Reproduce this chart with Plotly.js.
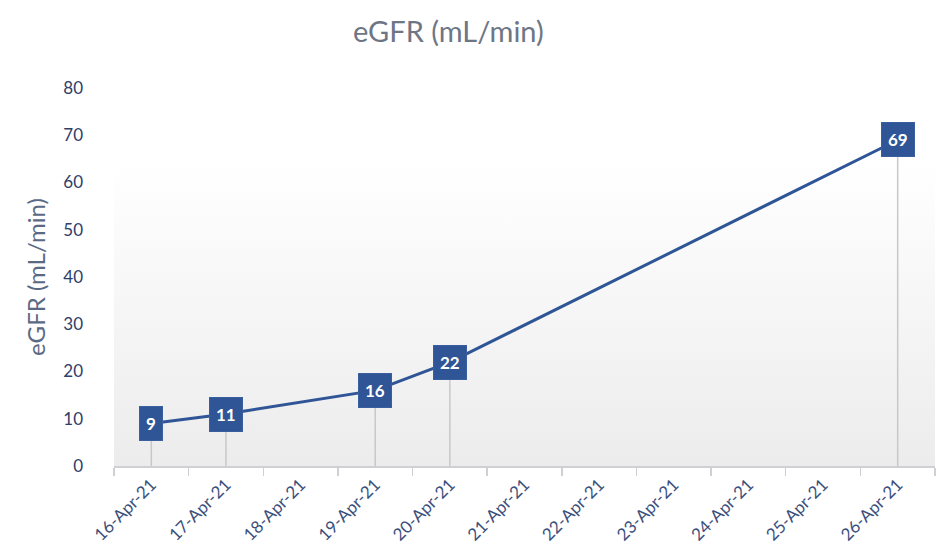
<!DOCTYPE html>
<html>
<head>
<meta charset="utf-8">
<script src="https://cdn.plot.ly/plotly-3.0.1.min.js"></script>
<style>html,body{margin:0;padding:0;background:#fff;}#chart{width:936px;height:555px;}</style>
</head>
<body>
<div id="chart"></div>
<script>
const categories = ['16-Apr-21','17-Apr-21','18-Apr-21','19-Apr-21','20-Apr-21','21-Apr-21','22-Apr-21','23-Apr-21','24-Apr-21','25-Apr-21','26-Apr-21'];
const egfr = [9, 11, null, 16, 22, null, null, null, null, null, 69];
const yTicks = [0, 10, 20, 30, 40, 50, 60, 70, 80];

const navy = '#2f5597';
const FONT = 'Lato, "Open Sans", sans-serif';

const gradSvg = '<svg xmlns="http://www.w3.org/2000/svg" width="100" height="100" preserveAspectRatio="none"><defs><linearGradient id="g" x1="0" y1="0" x2="0" y2="1"><stop offset="0" stop-color="#ffffff"/><stop offset="0.2" stop-color="#ffffff"/><stop offset="1" stop-color="#ececec"/></linearGradient></defs><rect width="100" height="100" fill="url(#g)"/></svg>';
const gradUrl = 'data:image/svg+xml;base64,' + btoa(gradSvg);

const pts = categories.map((c, i) => ({c, v: egfr[i]})).filter(p => p.v !== null);

const trace = {
  x: categories,
  y: egfr,
  type: 'scatter',
  mode: 'lines',
  connectgaps: true,
  line: {color: navy, width: 3},
  error_y: {type: 'data', symmetric: false, array: egfr.map(v => v === null ? null : 0), arrayminus: egfr, color: '#c8c8cc', thickness: 1.5, width: 0},
  hoverinfo: 'x+y'
};

const annotations = pts.map(p => ({
  x: p.c, y: p.v, xref: 'x', yref: 'y',
  text: '<b>' + p.v + '</b>', showarrow: false,
  font: {family: FONT, size: 17, color: '#ffffff'},
  bgcolor: navy, bordercolor: '#3a5f9f', borderwidth: 1, borderpad: 6,
  xanchor: 'center', yanchor: 'middle'
}));

const layout = {
  width: 936, height: 555,
  margin: {l: 114, r: 1, t: 88, b: 89},
  paper_bgcolor: '#ffffff',
  plot_bgcolor: 'rgba(0,0,0,0)',
  showlegend: false,
  title: {text: 'eGFR (mL/min)', font: {family: FONT, size: 29, color: '#6e7685'}, xref: 'container', yref: 'container', x: 0.479, y: 0.942, xanchor: 'center', yanchor: 'middle'},
  xaxis: {
    type: 'category', categoryorder: 'array', categoryarray: categories,
    tickson: 'boundaries', ticks: 'outside', ticklen: 8, tickcolor: '#d0d0d4', tickwidth: 1.5,
    showline: true, linecolor: '#d0d0d4', linewidth: 2,
    showgrid: false, zeroline: false, tickangle: -45,
    tickfont: {family: FONT, size: 17, color: '#3b4f7c'},
    range: [-0.5, 10.5], fixedrange: true
  },
  yaxis: {
    range: [0, 80], tickvals: yTicks, ticktext: yTicks.map(String),
    showgrid: false, zeroline: false, showline: false, ticks: '',
    ticklabelstandoff: 30,
    tickfont: {family: FONT, size: 17, color: '#2e4068'},
    title: {text: 'eGFR (mL/min)', font: {family: FONT, size: 24, color: '#5a6a85'}, standoff: 10},
    fixedrange: true
  },
  images: [{source: gradUrl, xref: 'paper', yref: 'paper', x: 0, y: 1, sizex: 1, sizey: 1, sizing: 'stretch', layer: 'below', xanchor: 'left', yanchor: 'top'}],
  annotations: annotations
};

Plotly.newPlot('chart', [trace], layout, {displayModeBar: false, staticPlot: true});
</script>
</body>
</html>
